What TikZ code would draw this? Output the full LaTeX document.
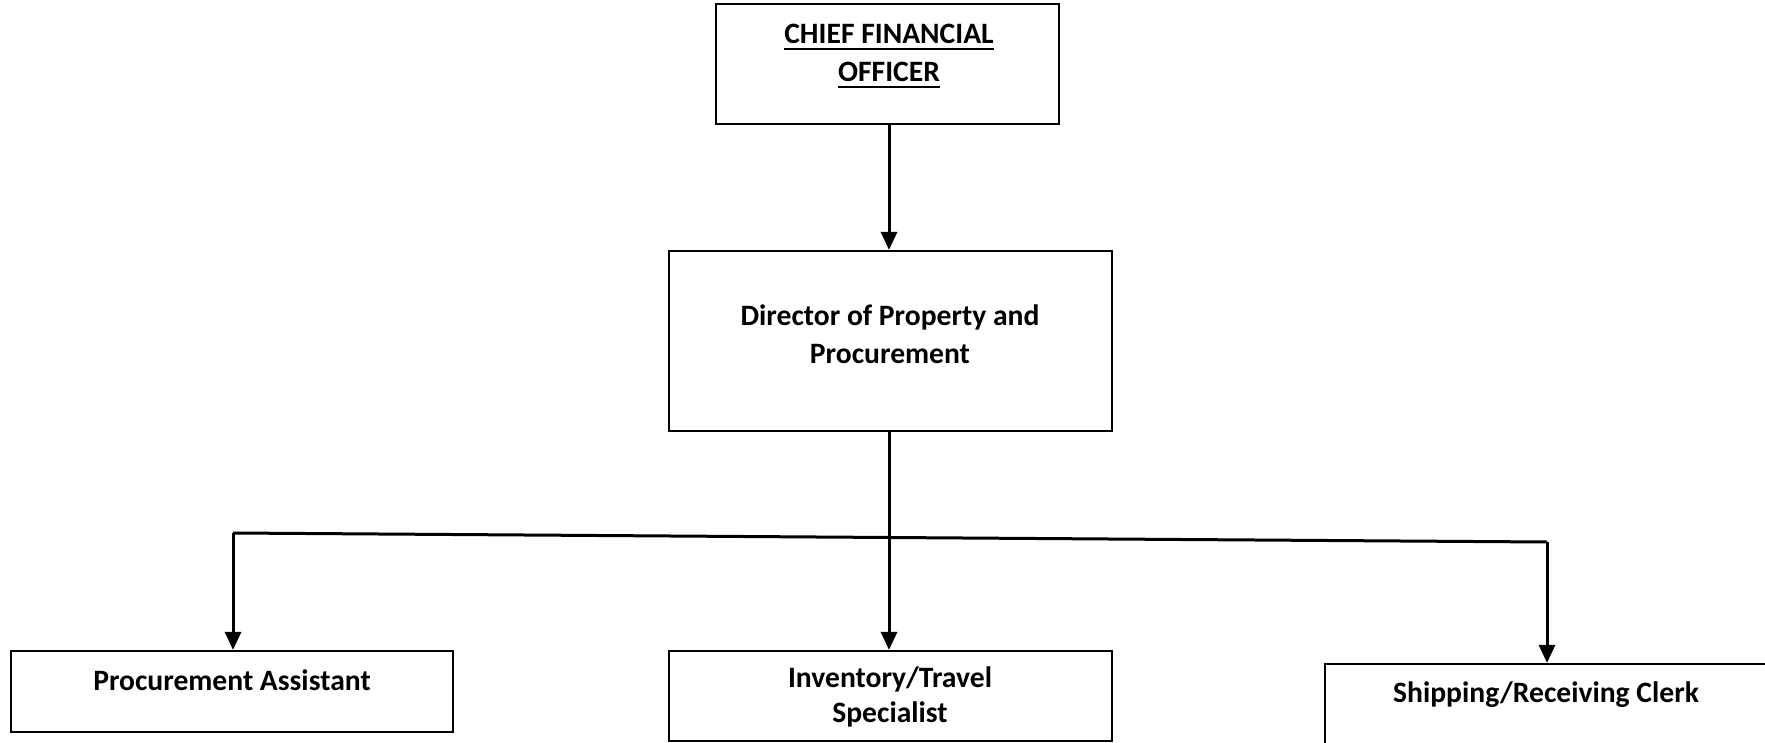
\documentclass[tikz,border=0pt]{standalone}
\usepackage{fontspec}
\setmainfont{Carlito}
\usetikzlibrary{arrows.meta}
\newcommand\myul[1]{\leavevmode\vtop{\hbox{#1}\kern2pt\hrule height 1.1pt}}
\begin{document}
\begin{tikzpicture}[x=0.5pt,y=-0.5pt,
  box/.style={draw=black,line width=1.1pt,fill=white,inner sep=0pt},
  lbl/.style={font=\bfseries\fontsize{14.8}{19}\selectfont,align=center,inner sep=0pt},
  conn/.style={line width=1.5pt,-{Triangle[width=8pt,length=9pt]}},
  plain/.style={line width=1.5pt}]
\useasboundingbox (0,0) rectangle (1765,743);
\clip (0,0) rectangle (1765,743);
% boxes
\node[box,minimum width=171.5pt,minimum height=60pt] (cfo) at (887.5,64) {};
\node[box,minimum width=221.5pt,minimum height=90pt] (dir) at (890.5,341) {};
\node[box,minimum width=221pt,minimum height=40.5pt] (pa) at (232,691.5) {};
\node[box,minimum width=221.5pt,minimum height=45pt] (inv) at (890.5,696) {};
\node[box,minimum width=225pt,minimum height=60pt] (ship) at (1550,724) {};
% texts
\node[lbl] (tcfo) at (889,56) {\myul{CHIEF FINANCIAL}\\\myul{OFFICER}};
\node[lbl] (tdir) at (890,334) {Director of Property and\\Procurement};
\node[lbl] (tpa) at (232,680) {Procurement Assistant};
\node[lbl,font=\bfseries\fontsize{14.8}{17.5}\selectfont] (tinv) at (890,697) {Inventory/Travel\\Specialist};
\node[lbl] (tship) at (1546,695) {Shipping/Receiving Clerk};
% connectors
\coordinate (bL) at (233,533);
\coordinate (bR) at (1547,542);
\draw[conn] (cfo.south -| 889,0) -- (dir.north -| 889,0);
\draw[conn] (dir.south -| 889,0) -- (inv.north -| 889,0);
\draw[plain] (bL) -- (bR);
\draw[conn] (bL) -- (bL |- pa.north);
\draw[conn] (bR) -- (bR |- ship.north);
\end{tikzpicture}
\end{document}
